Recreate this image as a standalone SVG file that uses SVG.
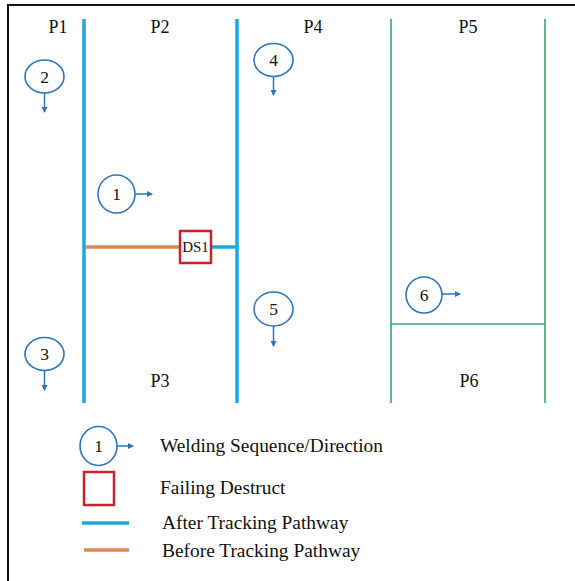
<svg xmlns="http://www.w3.org/2000/svg" width="575" height="581" viewBox="0 0 575 581">
<defs>
<marker id="ah" markerWidth="6" markerHeight="6" refX="5" refY="3" orient="auto" markerUnits="userSpaceOnUse">
<path d="M0,0 L6,3 L0,6 Z" fill="#2e75b6"/>
</marker>
<style>
.lbl{font-size:18px;text-anchor:middle;}
.num{font-size:17.5px;text-anchor:middle;}
.leg{font-size:19.4px;}
.seq{fill:none;stroke:#2e75b6;stroke-width:1.6;}
.arr{stroke:#2e75b6;stroke-width:1.5;marker-end:url(#ah);}
.blue{stroke:#1ea7dc;stroke-width:3.5;}
.green{stroke:#35a86e;stroke-width:1.6;}
.orange{stroke:#d98a4e;stroke-width:3.5;}
.red{fill:#fff;stroke:#c8232c;stroke-width:2.5;}
</style>
</defs>
<rect x="0" y="0" width="575" height="581" fill="#fff"/>
<path d="M8,590 L8,5 L590,5" fill="none" stroke="#111" stroke-width="2"/>

<g id="connectors">
<line class="blue" x1="84" y1="19" x2="84" y2="403"/>
<line class="blue" x1="237" y1="19" x2="237" y2="403"/>
<line class="green" x1="391" y1="19" x2="391" y2="403"/>
<line class="green" x1="545" y1="19" x2="545" y2="403"/>
<line class="green" x1="391" y1="324" x2="545" y2="324"/>
<line class="orange" x1="85" y1="247" x2="180" y2="247"/>
<line class="blue" x1="211" y1="247" x2="236" y2="247"/>
</g>

<g font-family="'Liberation Serif', 'DejaVu Serif', serif" fill="#111">
<g id="labels">
<text class="lbl" x="58" y="33">P1</text>
<text class="lbl" x="160" y="33">P2</text>
<text class="lbl" x="313" y="33">P4</text>
<text class="lbl" x="468" y="33">P5</text>
<text class="lbl" x="160" y="387">P3</text>
<text class="lbl" x="469" y="387">P6</text>
</g>

<g id="seq2">
<ellipse class="seq" cx="44.5" cy="76.5" rx="19.5" ry="16.5"/>
<text class="num" x="44.5" y="82.5">2</text>
<line class="arr" x1="44.5" y1="93" x2="44.5" y2="112"/>
</g>
<g id="seq4">
<ellipse class="seq" cx="273.5" cy="60" rx="19.5" ry="16.5"/>
<text class="num" x="273.5" y="66">4</text>
<line class="arr" x1="273.5" y1="76.5" x2="273.5" y2="95"/>
</g>
<g id="seq1">
<ellipse class="seq" cx="116.5" cy="194" rx="18.5" ry="19"/>
<text class="num" x="116.5" y="200">1</text>
<line class="arr" x1="135" y1="194" x2="152" y2="194"/>
</g>
<g id="ds1">
<rect class="red" x="180" y="231" width="31" height="32"/>
<text x="195.5" y="252" font-size="15" text-anchor="middle">DS1</text>
</g>
<g id="seq5">
<ellipse class="seq" cx="273.5" cy="309" rx="19.5" ry="17"/>
<text class="num" x="273.5" y="315">5</text>
<line class="arr" x1="273.5" y1="326" x2="273.5" y2="346"/>
</g>
<g id="seq6">
<ellipse class="seq" cx="424" cy="295" rx="18" ry="18"/>
<text class="num" x="424" y="301">6</text>
<line class="arr" x1="442" y1="294" x2="460" y2="294"/>
</g>
<g id="seq3">
<ellipse class="seq" cx="44.5" cy="354" rx="19.5" ry="16.5"/>
<text class="num" x="44.5" y="360">3</text>
<line class="arr" x1="44.5" y1="370.5" x2="44.5" y2="390"/>
</g>

<g id="legend">
<ellipse class="seq" cx="98.5" cy="446" rx="18.5" ry="19.5"/>
<text class="num" x="98.5" y="452">1</text>
<line class="arr" x1="117" y1="446" x2="133" y2="446"/>
<text class="leg" x="160" y="452">Welding Sequence/Direction</text>
<rect class="red" x="84" y="472" width="30" height="33"/>
<text class="leg" x="160" y="494">Failing Destruct</text>
<line class="blue" x1="82" y1="523" x2="129" y2="523"/>
<text class="leg" x="162" y="529">After Tracking Pathway</text>
<line class="orange" x1="84" y1="550" x2="129" y2="550"/>
<text class="leg" x="162" y="557">Before Tracking Pathway</text>
</g>
</g>
</svg>
